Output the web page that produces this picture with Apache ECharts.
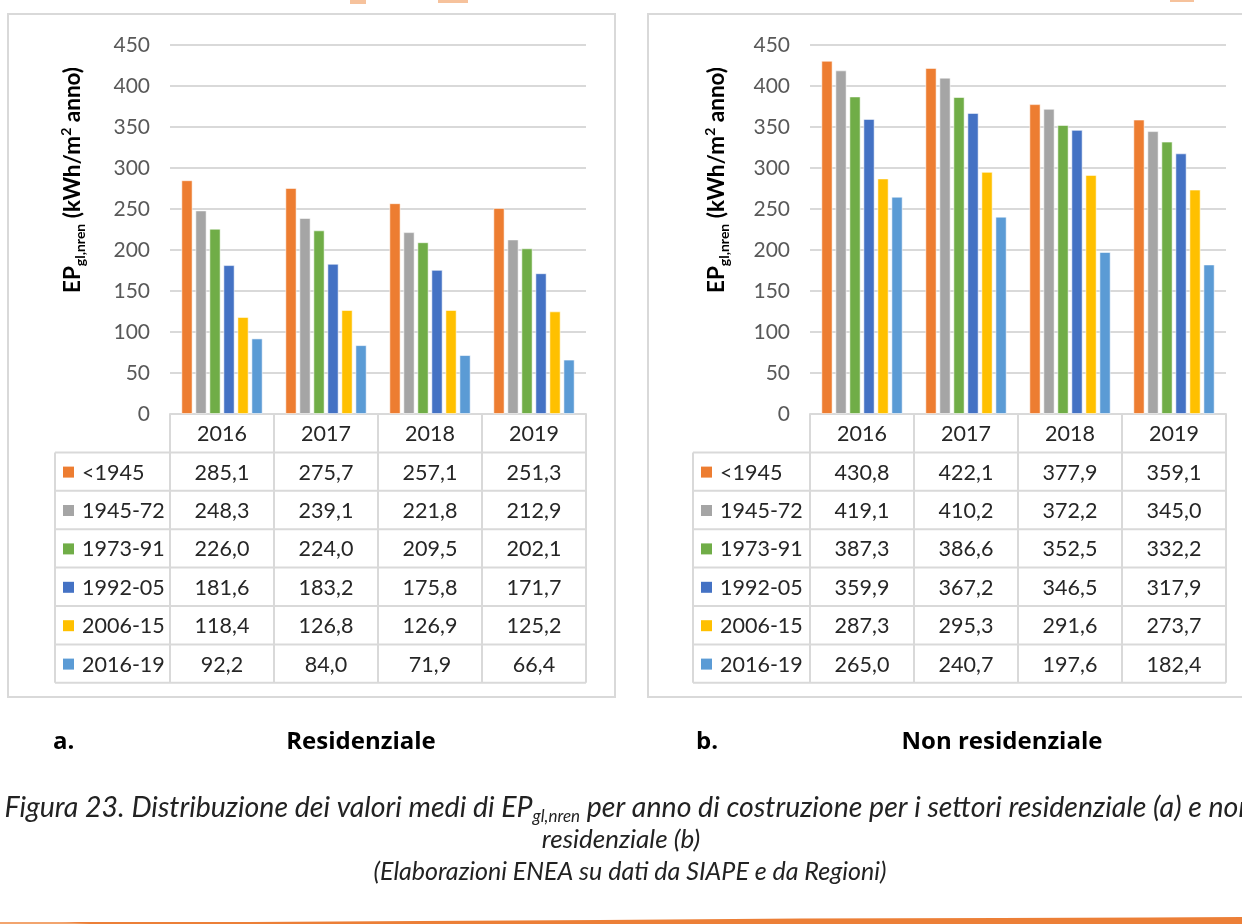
<!DOCTYPE html>
<html>
<head>
<meta charset="utf-8">
<script src="https://cdn.jsdelivr.net/npm/echarts@6/dist/echarts.min.js"></script>
<style>
html,body{margin:0;padding:0;background:#fff;}
#chart{width:1242px;height:924px;}
</style>
</head>
<body>
<div id="chart"></div>
<script>
// ---- data ----
const years = ['2016', '2017', '2018', '2019'];
const periods = ['<1945', '1945-72', '1973-91', '1992-05', '2006-15', '2016-19'];
const yTicks = [0, 50, 100, 150, 200, 250, 300, 350, 400, 450];

// Residenziale (a)
const res1945 = [285.1, 275.7, 257.1, 251.3];
const res4572 = [248.3, 239.1, 221.8, 212.9];
const res7391 = [226.0, 224.0, 209.5, 202.1];
const res9205 = [181.6, 183.2, 175.8, 171.7];
const res0615 = [118.4, 126.8, 126.9, 125.2];
const res1619 = [92.2, 84.0, 71.9, 66.4];

// Non residenziale (b)
const non1945 = [430.8, 422.1, 377.9, 359.1];
const non4572 = [419.1, 410.2, 372.2, 345.0];
const non7391 = [387.3, 386.6, 352.5, 332.2];
const non9205 = [359.9, 367.2, 346.5, 317.9];
const non0615 = [287.3, 295.3, 291.6, 273.7];
const non1619 = [265.0, 240.7, 197.6, 182.4];

const resSeries = [res1945, res4572, res7391, res9205, res0615, res1619];
const nonSeries = [non1945, non4572, non7391, non9205, non0615, non1619];

// ---- style ----
const colors = ['#ED7D31', '#A5A5A5', '#70AD47', '#4472C4', '#FFC000', '#5B9BD5'];
const FONT = 'Lato';
const lineCol = '#d9d9d9';
const plotTop = 45, plotH = 369, plotW = 416;
const panels = [
  {gridLeft: 170, tableLeft: 55, nameX: 73, box: [8, 14, 607, 683]},
  {gridLeft: 810, tableLeft: 693, nameX: 717, box: [648, 14, 610, 683]}
];

const chart = echarts.init(document.getElementById('chart'), null, {renderer: 'canvas'});

function fmt(v) { return v.toFixed(1).replace('.', ','); }

const grids = panels.map(p => ({left: p.gridLeft, top: plotTop, width: plotW, height: plotH}));
const xAxes = panels.map((p, i) => ({
  type: 'category', gridIndex: i, data: years,
  axisLine: {show: true, lineStyle: {color: lineCol, width: 2}},
  axisTick: {show: false}, axisLabel: {show: false}
}));
const yAxes = panels.map((p, i) => ({
  type: 'value', gridIndex: i, min: yTicks[0], max: yTicks[yTicks.length - 1], interval: 50,
  axisLine: {show: false}, axisTick: {show: false},
  splitLine: {lineStyle: {color: lineCol, width: 2}},
  axisLabel: {color: '#595959', fontSize: 21, fontFamily: FONT, margin: 20}
}));
const series = [];
[resSeries, nonSeries].forEach((set, gi) => {
  set.forEach((vals, si) => {
    series.push({
      type: 'bar', name: periods[si], xAxisIndex: gi, yAxisIndex: gi,
      data: vals, barWidth: 11.3, barGap: '24%',
      itemStyle: {color: colors[si], borderColor: 'rgba(255,255,255,0.55)', borderWidth: 1}
    });
  });
});

chart.setOption({
  backgroundColor: '#fff',
  animation: false,
  grid: grids, xAxis: xAxes, yAxis: yAxes, series: series
});

// ---- table, frames, titles, caption ----
const g = [];
panels.forEach(p => {
  g.push({type: 'rect', shape: {x: p.box[0], y: p.box[1], width: p.box[2], height: p.box[3]},
    style: {fill: null, stroke: lineCol, lineWidth: 2}, z: 1});
});

const tableTop = plotTop + plotH;
const rowH = 38.4;
const colW = plotW / years.length;
const cellFont = '21.5px ' + FONT;
[resSeries, nonSeries].forEach((set, gi) => {
  const p = panels[gi];
  const centers = years.map(y => chart.convertToPixel({xAxisIndex: gi}, y));
  const x0 = centers[0] - colW / 2;
  const x1 = centers[centers.length - 1] + colW / 2;
  const yBottom = tableTop + rowH * (periods.length + 1);
  for (let k = 1; k <= periods.length + 1; k++) {
    const y = tableTop + rowH * k;
    g.push({type: 'line', shape: {x1: p.tableLeft, y1: y, x2: x1, y2: y},
      style: {stroke: lineCol, lineWidth: 2}, z: 2});
  }
  for (let c = 0; c <= years.length; c++) {
    const x = x0 + colW * c;
    g.push({type: 'line', shape: {x1: x, y1: tableTop, x2: x, y2: yBottom},
      style: {stroke: lineCol, lineWidth: 2}, z: 2});
  }
  g.push({type: 'line', shape: {x1: p.tableLeft, y1: tableTop + rowH, x2: p.tableLeft, y2: yBottom},
    style: {stroke: lineCol, lineWidth: 2}, z: 2});
  years.forEach((y, c) => {
    g.push({type: 'text', x: centers[c], y: tableTop + rowH / 2 + 1,
      style: {text: y, fill: '#262626', font: cellFont, align: 'center', verticalAlign: 'middle'}, z: 3});
  });
  periods.forEach((per, r) => {
    const yc = tableTop + rowH * (r + 1.5) + 1;
    g.push({type: 'rect', shape: {x: p.tableLeft + 8, y: yc - 6, width: 11, height: 11},
      style: {fill: colors[r]}, z: 3});
    g.push({type: 'text', x: p.tableLeft + 27, y: yc,
      style: {text: per, fill: '#262626', font: cellFont, align: 'left', verticalAlign: 'middle'}, z: 3});
    set[r].forEach((v, c) => {
      g.push({type: 'text', x: centers[c], y: yc,
        style: {text: fmt(v), fill: '#262626', font: cellFont, align: 'center', verticalAlign: 'middle'}, z: 3});
    });
  });
  g.push({type: 'text', x: p.nameX, y: 180, rotation: Math.PI / 2,
    style: {
      text: '{a|EP}{b|gl,nren}{a| (kWh/m}{c|2}{a| anno)}',
      align: 'center', verticalAlign: 'middle',
      rich: {
        a: {fontFamily: FONT, fontWeight: 'bold', fontSize: 22.5, fill: '#000', lineHeight: 28},
        b: {fontFamily: FONT, fontWeight: 'bold', fontSize: 14, fill: '#000', lineHeight: 15, verticalAlign: 'bottom'},
        c: {fontFamily: FONT, fontWeight: 'bold', fontSize: 14, fill: '#000', lineHeight: 15, verticalAlign: 'top'}
      }
    }, z: 3});
});

const titleFont = 'bold 24px "Open Sans"';
g.push({type: 'text', x: 53, y: 742, style: {text: 'a.', font: titleFont, fill: '#000', verticalAlign: 'middle'}});
g.push({type: 'text', x: 361, y: 742, style: {text: 'Residenziale', font: titleFont, fill: '#000', align: 'center', verticalAlign: 'middle'}});
g.push({type: 'text', x: 696, y: 742, style: {text: 'b.', font: titleFont, fill: '#000', verticalAlign: 'middle'}});
g.push({type: 'text', x: 1002, y: 742, style: {text: 'Non residenziale', font: titleFont, fill: '#000', align: 'center', verticalAlign: 'middle'}});

const capCol = '#222';
const capRich = {
  n: {fontFamily: FONT, fontStyle: 'italic', fontWeight: 'normal', fontSize: 28.5, fill: capCol, lineHeight: 34},
  s: {fontFamily: FONT, fontStyle: 'italic', fontWeight: 'normal', fontSize: 17, fill: capCol, lineHeight: 18, verticalAlign: 'bottom'}
};
g.push({type: 'text', x: 629, y: 808, style: {
  text: '{n|Figura 23. Distribuzione dei valori medi di EP}{s|gl,nren}{n| per anno di costruzione per i settori residenziale (a) e non}',
  rich: capRich, align: 'center', verticalAlign: 'middle'}});
g.push({type: 'text', x: 621, y: 840, style: {
  text: 'residenziale (b)', font: 'italic 26px ' + FONT, fill: capCol, align: 'center', verticalAlign: 'middle'}});
g.push({type: 'text', x: 630, y: 872, style: {
  text: '(Elaborazioni ENEA su dati da SIAPE e da Regioni)', font: 'italic 25px ' + FONT, fill: capCol, align: 'center', verticalAlign: 'middle'}});

const orange = '#EC7F37';
g.push({type: 'polygon', shape: {points: [[0, 923], [80, 922], [250, 922], [420, 921], [600, 920], [800, 918.5], [1000, 918], [1150, 917.5], [1242, 917], [1242, 924], [0, 924]]},
  style: {fill: orange}});
g.push({type: 'polygon', shape: {points: [[0, 922], [60, 922], [90, 924], [0, 924]]}, style: {fill: '#F2A46E'}});
g.push({type: 'rect', shape: {x: 350, y: 0, width: 16, height: 4}, style: {fill: '#F6C29C'}});
g.push({type: 'rect', shape: {x: 438, y: 0, width: 30, height: 3}, style: {fill: '#F6C29C'}});
g.push({type: 'rect', shape: {x: 1170, y: 0, width: 24, height: 2}, style: {fill: '#F6C29C'}});

chart.setOption({graphic: g});
</script>
</body>
</html>
